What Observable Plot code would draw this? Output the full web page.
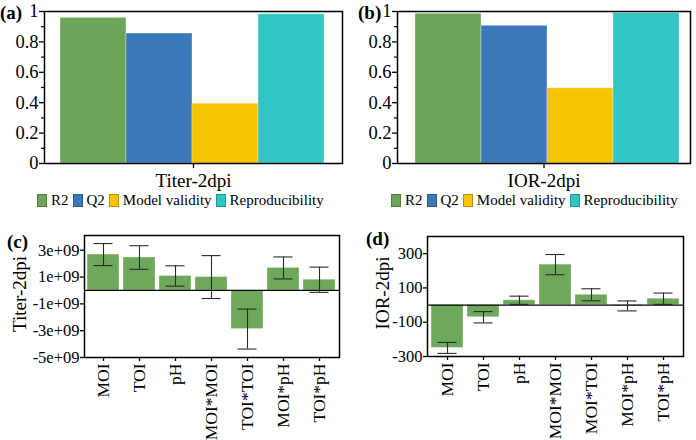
<!DOCTYPE html>
<html><head><meta charset="utf-8">
<script src="https://cdn.jsdelivr.net/npm/d3@7"></script>
<script src="https://cdn.jsdelivr.net/npm/@observablehq/plot@0.6"></script>
<style>
body{margin:0;background:#fff;font-family:"Liberation Serif","Times New Roman",serif;color:#000;}
#root{position:relative;width:696px;height:440px;overflow:hidden;}
.panel{position:absolute;}
.panel svg, .panel svg text{font-family:"Liberation Serif","Times New Roman",serif !important;}
.tag{position:absolute;font-weight:bold;font-size:19px;line-height:1;}
.legend{position:absolute;display:flex;align-items:center;font-size:15px;white-space:nowrap;line-height:1;}
.sw{display:inline-block;width:10px;height:13px;margin-right:4px;box-sizing:border-box;border:1px solid rgba(0,0,0,0.25);}
.item{display:flex;align-items:center;margin-right:4px;}
.ylab{position:absolute;font-size:19px;white-space:nowrap;line-height:1;transform:translate(-50%,-50%) rotate(-90deg);}
</style>
</head><body><div id="root"></div>
<script>
// ---- data ----
const metrics = ["R2", "Q2", "Model validity", "Reproducibility"];
const titerFit = [0.958, 0.855, 0.393, 0.982];
const iorFit = [0.985, 0.906, 0.495, 0.99];
const fitTicks = [0, 0.2, 0.4, 0.6, 0.8, 1];
const fitMinorTicks = [0.1, 0.3, 0.5, 0.7, 0.9];

const termsTiter = ["MOI", "TOI", "pH", "MOI*MOI", "TOI*TOI", "MOI*pH", "TOI*pH"];
const titerCoef = [2.68e9, 2.46e9, 1.08e9, 1.0e9, -2.88e9, 1.68e9, 0.8e9];
const titerErr = [0.82e9, 0.88e9, 0.76e9, 1.6e9, 1.49e9, 0.82e9, 0.94e9];
const titerTicks = [3e9, 1e9, -1e9, -3e9, -5e9];
const titerTickLabels = ["3e+09", "1e+09", "-1e+09", "-3e+09", "-5e+09"];

const termsIor = ["MOI", "TOI", "pH", "MOI*MOI", "MOI*TOI", "MOI*pH", "TOI*pH"];
const iorCoef = [-250, -71, 28, 236, 60, -5, 37];
const iorErr = [32, 33, 24, 59, 35, 29, 33];
const iorTicks = [300, 100, -100, -300];
const iorTickLabels = ["300", "100", "-100", "-300"];

// ---- styles ----
const metricColors = ["#6ba55a", "#3b78b7", "#f6c400", "#33c4c4"];
const coefGreen = "#6ea85b";
const FONT = "Liberation Serif, Times New Roman, serif";
const root = document.getElementById("root");

function place(node, left, top) {
  const d = document.createElement("div");
  d.className = "panel";
  d.style.left = left + "px";
  d.style.top = top + "px";
  d.appendChild(node);
  root.appendChild(d);
}
function tag(text, left, top) {
  const d = document.createElement("div");
  d.className = "tag"; d.textContent = text;
  d.style.left = left + "px"; d.style.top = top + "px";
  root.appendChild(d);
}
function ylab(text, cx, cy) {
  const d = document.createElement("div");
  d.className = "ylab"; d.textContent = text;
  d.style.left = cx + "px"; d.style.top = cy + "px";
  root.appendChild(d);
}
function legend(left, top) {
  const d = document.createElement("div");
  d.className = "legend";
  d.style.left = left + "px"; d.style.top = top + "px";
  metrics.forEach((m, i) => {
    const it = document.createElement("span"); it.className = "item";
    const sw = document.createElement("span"); sw.className = "sw"; sw.style.background = metricColors[i];
    const tx = document.createElement("span"); tx.textContent = m;
    it.appendChild(sw); it.appendChild(tx); d.appendChild(it);
  });
  root.appendChild(d);
}

function fitPanel(group, values, o) {
  const rows = metrics.map((m, i) => ({group, metric: m, value: values[i]}));
  return Plot.plot({
    width: 348, height: 195,
    marginTop: 11, marginBottom: 32, marginLeft: o.ml, marginRight: o.mr,
    style: {fontFamily: FONT, fontSize: "17px", color: "black", background: "transparent", overflow: "visible"},
    fx: {domain: [group], padding: 0, label: null},
    x: {domain: metrics, paddingInner: 0, paddingOuter: o.po, align: o.align, axis: null},
    y: {domain: [0, 1], label: null},
    color: {domain: metrics, range: metricColors},
    marks: [
      Plot.barY(rows, {fx: "group", x: "metric", y: "value", fill: "metric", stroke: "#ffffff", strokeOpacity: 0.35, strokeWidth: 1}),
      Plot.frame({stroke: "black", strokeWidth: 1.5}),
      Plot.axisY({ticks: fitTicks, tickSize: 5, tickPadding: 1, tickFormat: d => String(+d.toFixed(1)), label: null, fontSize: 18.5, strokeWidth: 1.3}),
      Plot.axisY({ticks: fitMinorTicks, tickSize: 3, tickFormat: () => "", label: null, strokeWidth: 1.2}),
      Plot.axisFx({anchor: "bottom", tickSize: 5, tickPadding: 5, fontSize: 19, label: null, strokeWidth: 1.3})
    ]
  });
}

function coefPanel(terms, coef, err, ticks, tickLabels, domain, o) {
  const rows = terms.map((t, i) => ({term: t, value: coef[i], lo: coef[i] - err[i], hi: coef[i] + err[i]}));
  return Plot.plot({
    width: 348, height: 220,
    marginTop: o.mt, marginBottom: o.mb, marginLeft: o.ml, marginRight: o.mr,
    style: {fontFamily: FONT, fontSize: "16px", color: "black", background: "transparent", overflow: "visible"},
    x: {domain: terms, paddingInner: 0.1, paddingOuter: 0.05},
    y: {domain, label: null},
    marks: [
      Plot.barY(rows, {x: "term", y: "value", fill: coefGreen, stroke: "#ffffff", strokeOpacity: 0.35}),
      Plot.ruleY([0], {stroke: "black", strokeWidth: 1.3}),
      Plot.ruleX(rows, {x: "term", y1: "lo", y2: "hi", stroke: "#2a2a2a", strokeWidth: 1.1}),
      Plot.tickY(rows, {x: "term", y: "lo", stroke: "#2a2a2a", strokeWidth: 1.1, insetLeft: 6.5, insetRight: 6.5}),
      Plot.tickY(rows, {x: "term", y: "hi", stroke: "#2a2a2a", strokeWidth: 1.1, insetLeft: 6.5, insetRight: 6.5}),
      Plot.frame({stroke: "black", strokeWidth: 1.5}),
      Plot.axisY({ticks, tickFormat: d => tickLabels[ticks.indexOf(d)], tickSize: 4, tickPadding: 1, label: null, fontSize: 16.5, strokeWidth: 1.3}),
      Plot.axisX({tickRotate: -90, tickSize: 4, tickPadding: 2, label: null, fontSize: 17.5, strokeWidth: 1.3})
    ]
  });
}

// (a)
place(fitPanel("Titer-2dpi", titerFit, {ml: 44, mr: 6, po: 0.24, align: 0.47}), 0, 0);
legend(37, 193);
tag("(a)", 0, 3);
// (b)
place(fitPanel("IOR-2dpi", iorFit, {ml: 49, mr: 6, po: 0.193, align: 0.61}), 348, 0);
legend(391, 193);
tag("(b)", 358, 3);
// (c)
place(coefPanel(termsTiter, titerCoef, titerErr, titerTicks, titerTickLabels, [-5e9, 4.1e9], {mt: 15, mb: 83, ml: 84, mr: 9}), 0, 220);
tag("(c)", 7, 232);
ylab("Titer-2dpi", 19, 294);
// (d)
place(coefPanel(termsIor, iorCoef, iorErr, iorTicks, iorTickLabels, [-300, 400], {mt: 16, mb: 84, ml: 79, mr: 13}), 348, 220);
tag("(d)", 366, 229);
ylab("IOR-2dpi", 382, 293);
</script>
</body></html>
